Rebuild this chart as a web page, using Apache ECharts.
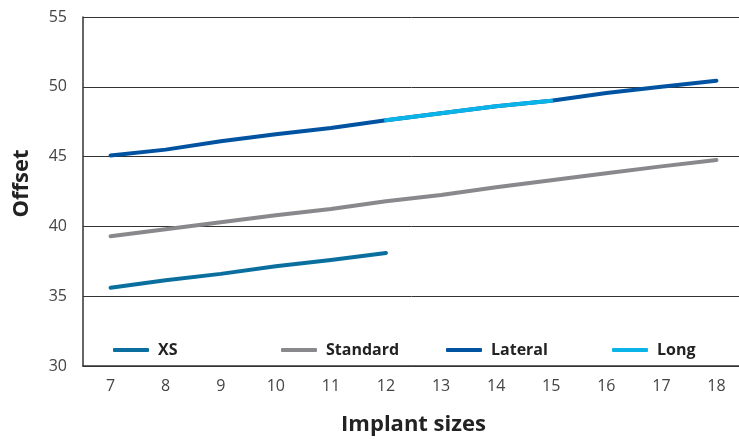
<!DOCTYPE html>
<html>
<head>
<meta charset="utf-8">
<script src="https://cdn.jsdelivr.net/npm/echarts@6/dist/echarts.min.js"></script>
<style>html,body{margin:0;padding:0;background:#fff}#c{width:739px;height:441px}</style>
</head>
<body>
<div id="c"></div>
<script>
const categories = ['7','8','9','10','11','12','13','14','15','16','17','18'];
const xsValues = [35.6, 36.15, 36.6, 37.15, 37.6, 38.1];
const standardValues = [39.3, 39.8, 40.3, 40.8, 41.25, 41.8, 42.25, 42.8, 43.3, 43.8, 44.3, 44.75];
const lateralValues = [45.08, 45.5, 46.1, 46.6, 47.05, 47.6, 48.1, 48.6, 49.0, 49.55, 50.0, 50.43];
const longValues = [null, null, null, null, null, 47.6, 48.1, 48.6, 49.0, null, null, null];
const seriesNames = ['XS', 'Standard', 'Lateral', 'Long'];
const yTicks = [30, 35, 40, 45, 50, 55];

const colors = {XS:'#0a6f9f', Standard:'#88888d', Lateral:'#0053a1', Long:'#0ab4e8'};
const font = '"Open Sans", "Noto Sans", sans-serif';

function lineSeries(name, data) {
  return {
    name, type:'line', data, showSymbol:false, symbol:'none', connectNulls:false,
    lineStyle:{color:colors[name], width:4, cap:'round', join:'round'},
    itemStyle:{color:colors[name]},
    emphasis:{disabled:true}, animation:false
  };
}
function legend(name, left) {
  return {
    data:[{name, icon:'roundRect'}], left, top:337, itemWidth:36, itemHeight:4, itemGap:0,
    textStyle:{fontFamily:font, fontWeight:'bold', fontSize:16, color:'#222', padding:[0,0,0,4]},
    selectedMode:false
  };
}
const chart = echarts.init(document.getElementById('c'), null, {renderer:'canvas'});
chart.setOption({
  animation:false,
  backgroundColor:'#fff',
  grid:{left:83, top:17, width:661, height:349, containLabel:false, outerBoundsMode:'none'},
  legend:[legend('XS',108), legend('Standard',276), legend('Lateral',441), legend('Long',607)],
  xAxis:{
    type:'category', data:categories, boundaryGap:true,
    name:'Implant sizes', nameLocation:'middle', nameGap:48,
    nameTextStyle:{fontFamily:font, fontWeight:'bold', fontSize:22, color:'#222'},
    axisLine:{lineStyle:{color:'#333', width:1.5}},
    axisTick:{show:false},
    axisLabel:{fontFamily:font, fontSize:16, color:'#444', margin:12}
  },
  yAxis:{
    type:'value', min:yTicks[0], max:yTicks[yTicks.length-1], interval:5,
    name:'Offset', nameLocation:'middle', nameGap:50, nameRotate:90,
    nameTextStyle:{fontFamily:font, fontWeight:'bold', fontSize:22, color:'#222', padding:[0,0,0,16]},
    axisLine:{show:true, lineStyle:{color:'#333', width:1.5}},
    axisTick:{show:false},
    splitLine:{lineStyle:{color:'#333', width:1}},
    axisLabel:{fontFamily:font, fontSize:16, color:'#444', margin:16}
  },
  series:[
    lineSeries('XS', xsValues),
    lineSeries('Standard', standardValues),
    lineSeries('Lateral', lateralValues),
    lineSeries('Long', longValues)
  ]
});
</script>
</body>
</html>
